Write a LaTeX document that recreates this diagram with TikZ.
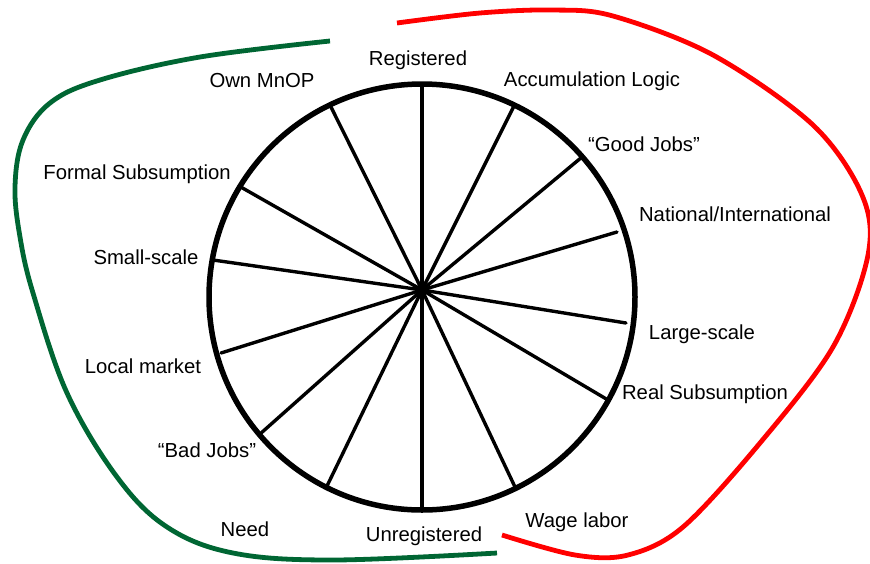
\documentclass[tikz,border=0pt]{standalone}
\usepackage{fontspec}
\setmainfont{Liberation Sans}
\usetikzlibrary{calc}
\definecolor{needgreen}{RGB}{0,102,51}
\tikzset{%
  myspoke/.style={line width=3.4pt, line cap=round},
  myrim/.style={line width=5.5pt},
  myloop/.style={line width=4.8pt, line cap=butt},
  mylabel/.style={anchor=base, inner sep=0pt, font=\fontsize{20.3pt}{24pt}\selectfont}
}

\begin{document}
\begin{tikzpicture}[x=1pt, y=-1pt]
\useasboundingbox (0,0) rectangle (870,563);

\coordinate (H) at (422,290);

\foreach \x/\y [count=\i] in {422/84, 514/106, 582/157, 617/232, 626/323, 608/400, 515/487,
                              422/510, 327/486, 260/434, 221/353, 213/260, 239/186, 330/105} {
  \coordinate (S\i) at (\x,\y);
}

\foreach \i in {1,...,14} {
  \draw [myspoke] (H) -- (S\i);
}

\draw [myrim] (422,297) circle [radius=213pt];

\node (reg)   [mylabel] at (418,65.5)  {Registered};
\node (acc)   [mylabel] at (592,86.5)  {Accumulation Logic};
\node (good)  [mylabel] at (644,151.5) {``Good Jobs''};
\node (nat)   [mylabel] at (735,221.5) {National/International};
\node (large) [mylabel] at (702,339.5) {Large-scale};
\node (real)  [mylabel] at (705,399.5) {Real Subsumption};
\node (wage)  [mylabel] at (577,527.5) {Wage labor};
\node (unreg) [mylabel] at (424,541.5) {Unregistered};
\node (need)  [mylabel] at (245,536.5) {Need};
\node (bad)   [mylabel] at (207,457.5) {``Bad Jobs''};
\node (local) [mylabel] at (143,373.5) {Local market};
\node (small) [mylabel] at (146,264.5) {Small-scale};
\node (formal)[mylabel] at (137,179.5) {Formal Subsumption};
\node (own)   [mylabel] at (262,87.5)  {Own MnOP};

% loops
\draw [myloop, red] plot [smooth, tension=0.55] coordinates {
  (397,23) (480,13) (553,10) (613,16) (713,55) (813,125) (862,195) (868,255)
  (833,347) (760,443) (683,527) (628,555) (575,555) (502,535)};
\draw [myloop, needgreen] plot [smooth, tension=0.6] coordinates {
  (330,41) (200,57) (100,80) (50,103) (23,140) (15,187) (20,237) (33,293)
  (67,393) (117,477) (167,527) (233,553) (333,560) (497,553)};
\end{tikzpicture}
\end{document}
